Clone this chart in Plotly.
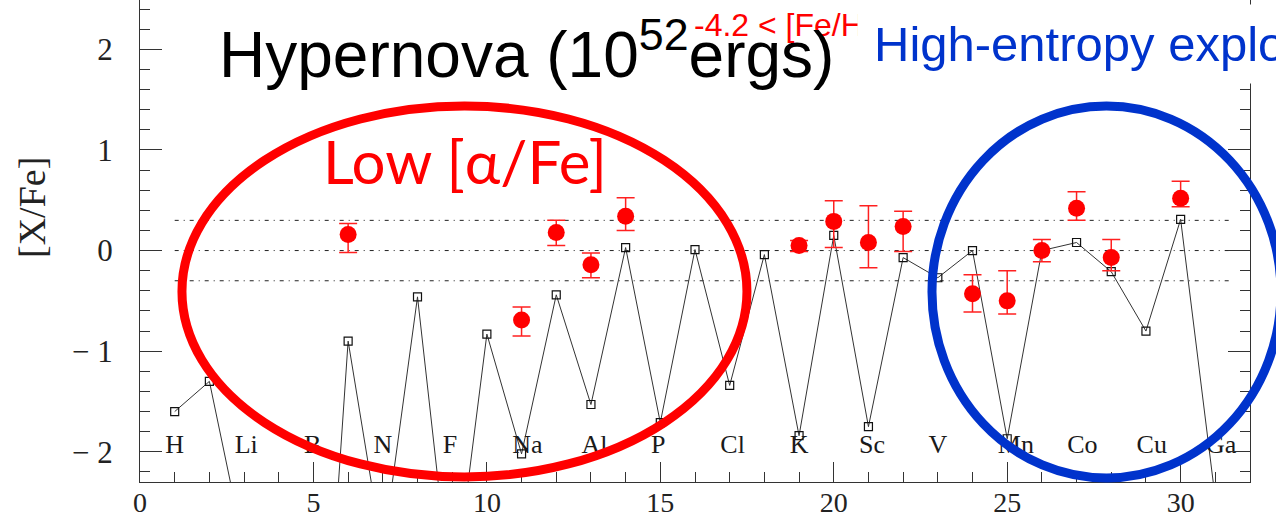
import numpy as np
import plotly.graph_objects as go

# Atomic numbers and hypernova model yields [X/Fe] (H .. Ga)
z_model = list(range(1, 32))
xfe_model = [-1.60, -1.30, -2.95, -4.50, -5.95, -0.90, -3.00, -0.46, -3.55, -0.83,
             -2.02, -0.44, -1.53, 0.03, -1.71, 0.01, -1.34, -0.04, -1.84, 0.15,
             -1.75, -0.07, -0.27, 0.00, -1.87, 0.00, 0.08, -0.21, -0.80, 0.31,
             -2.47]

# Observed abundances of extremely metal-poor stars with error bars
z_obs = [6, 11, 12, 13, 14, 19, 20, 21, 22, 24, 25, 26, 27, 28, 30]
xfe_obs = [0.16, -0.69, 0.18, -0.14, 0.34, 0.05, 0.29, 0.08, 0.24,
           -0.43, -0.50, 0.00, 0.42, -0.07, 0.52]
err_up = [0.11, 0.13, 0.12, 0.115, 0.185, 0.05, 0.205, 0.365, 0.15,
          0.19, 0.30, 0.11, 0.165, 0.18, 0.17]
err_down = [0.18, 0.16, 0.13, 0.13, 0.14, 0.06, 0.26, 0.25, 0.25,
            0.18, 0.13, 0.11, 0.12, 0.13, 0.085]

# Element names printed along the bottom (odd Z)
z_labels = [1, 3, 5, 7, 9, 11, 13, 15, 17, 19, 21, 23, 25, 27, 29, 31]
element_names = ["H", "Li", "B", "N", "F", "Na", "Al", "P", "Cl", "K",
                 "Sc", "V", "Mn", "Co", "Cu", "Ga"]
label_level = -1.95

# Reference levels (solar and +/- 0.3 dex)
ref_levels = [0.3, 0.0, -0.3]
ref_span = [1, 31.5]

x_ticks = [0, 5, 10, 15, 20, 25, 30]
y_ticks = [-2, -1, 0, 1, 2]
y_ticktext = ["\u2212 2", "\u2212 1", "0", "1", "2"]

AX = "#333333"
SERIF = "Liberation Serif, Times New Roman, serif"
SANS = "Liberation Sans, Arial, sans-serif"

fig = go.Figure()

for lvl in ref_levels:
    fig.add_trace(go.Scatter(
        x=ref_span, y=[lvl, lvl], mode="lines",
        line=dict(color="#222222", width=1, dash="4px,5px,1px,5px"),
        hoverinfo="skip"))

fig.add_trace(go.Scatter(
    x=z_model, y=xfe_model, mode="lines+markers",
    line=dict(color="#333333", width=1),
    marker=dict(symbol="square-open", size=8, color="#111111",
                line=dict(width=1.2, color="#111111"))))

fig.add_trace(go.Scatter(
    x=z_obs, y=xfe_obs, mode="markers",
    marker=dict(symbol="circle", size=17, color="#ff0000"),
    error_y=dict(type="data", symmetric=False, array=err_up,
                 arrayminus=err_down, color="#ff2020",
                 thickness=1.5, width=9)))

fig.add_trace(go.Scatter(
    x=np.array(z_labels) - 0.27, y=[label_level] * len(z_labels),
    mode="text", text=element_names, textposition="middle right",
    textfont=dict(family=SERIF, size=26, color="#1a1a1a"),
    cliponaxis=False))

# Highlight rings
fig.add_shape(type="circle", xref="paper", yref="paper",
              x0=0.0378, x1=0.5468, y0=0.0104, y1=0.7801,
              line=dict(color="#ff0000", width=9), layer="above")
fig.add_shape(type="circle", xref="paper", yref="paper",
              x0=0.7135, x1=1.0279, y0=0.0083, y1=0.7801,
              line=dict(color="#0033cc", width=9), layer="above")

annotations = [
    dict(text="-4.2 &lt; [Fe/H] &lt; -3.5", x=0.497, y=0.948,
         xref="paper", yref="paper", xanchor="left", yanchor="middle",
         showarrow=False, font=dict(family=SANS, size=32, color="#ff0000")),
    dict(text="Hypernova (10<sup>52</sup>ergs)", x=0.069, y=0.897,
         xref="paper", yref="paper", xanchor="left", yanchor="middle",
         showarrow=False, font=dict(family=SANS, size=64, color="#000000")),
    # white panel behind the blue heading
    dict(text="&nbsp;", x=0.646, y=0.9087, width=440, height=78,
         xref="paper", yref="paper", xanchor="left", yanchor="middle",
         showarrow=False, bgcolor="#ffffff", borderpad=0,
         font=dict(family=SANS, size=20, color="#ffffff")),
    dict(text="High-entropy explosion", x=0.6595, y=0.9087,
         xref="paper", yref="paper", xanchor="left", yanchor="middle",
         showarrow=False,
         font=dict(family=SANS, size=49, color="#0033cc")),
    dict(text="Low [\u03b1/Fe]", x=0.163, y=0.667,
         xref="paper", yref="paper", xanchor="left", yanchor="middle",
         showarrow=False, font=dict(family="Lato, Noto Sans, sans-serif",
                                    size=60, color="#ff0000")),
    dict(text="[X/Fe]", x=-0.0973, y=0.5705, xref="paper", yref="paper",
         textangle=-90, showarrow=False, xanchor="center", yanchor="middle",
         font=dict(family=SERIF, size=38, color="#222222")),
]

fig.update_layout(
    width=1276, height=520,
    margin=dict(l=140, r=26, t=0, b=38),
    plot_bgcolor="#ffffff", paper_bgcolor="#ffffff",
    showlegend=False,
    annotations=annotations,
    xaxis=dict(range=[0, 32], tickvals=x_ticks, ticks="inside", ticklen=20,
               tickwidth=1, tickcolor=AX, showline=True, linecolor=AX,
               linewidth=1.2, mirror=False, showgrid=False, zeroline=False,
               automargin=False, ticklabelstandoff=-5,
               tickfont=dict(family=SERIF, size=28, color="#222222"),
               minor=dict(dtick=1, ticklen=10, tickcolor=AX, ticks="inside",
                          showgrid=False)),
    yaxis=dict(range=[-2.3, 2.49], tickvals=y_ticks, ticktext=y_ticktext,
               ticks="inside", ticklen=22, tickwidth=1, tickcolor=AX,
               showline=True, linecolor=AX, linewidth=1.2, mirror="ticks",
               showgrid=False, zeroline=False, automargin=False,
               ticklabelstandoff=20,
               tickfont=dict(family=SERIF, size=31, color="#222222"),
               minor=dict(dtick=0.2, ticklen=10, tickcolor=AX,
                          ticks="inside", showgrid=False)),
)

fig.write_html("out.html")
